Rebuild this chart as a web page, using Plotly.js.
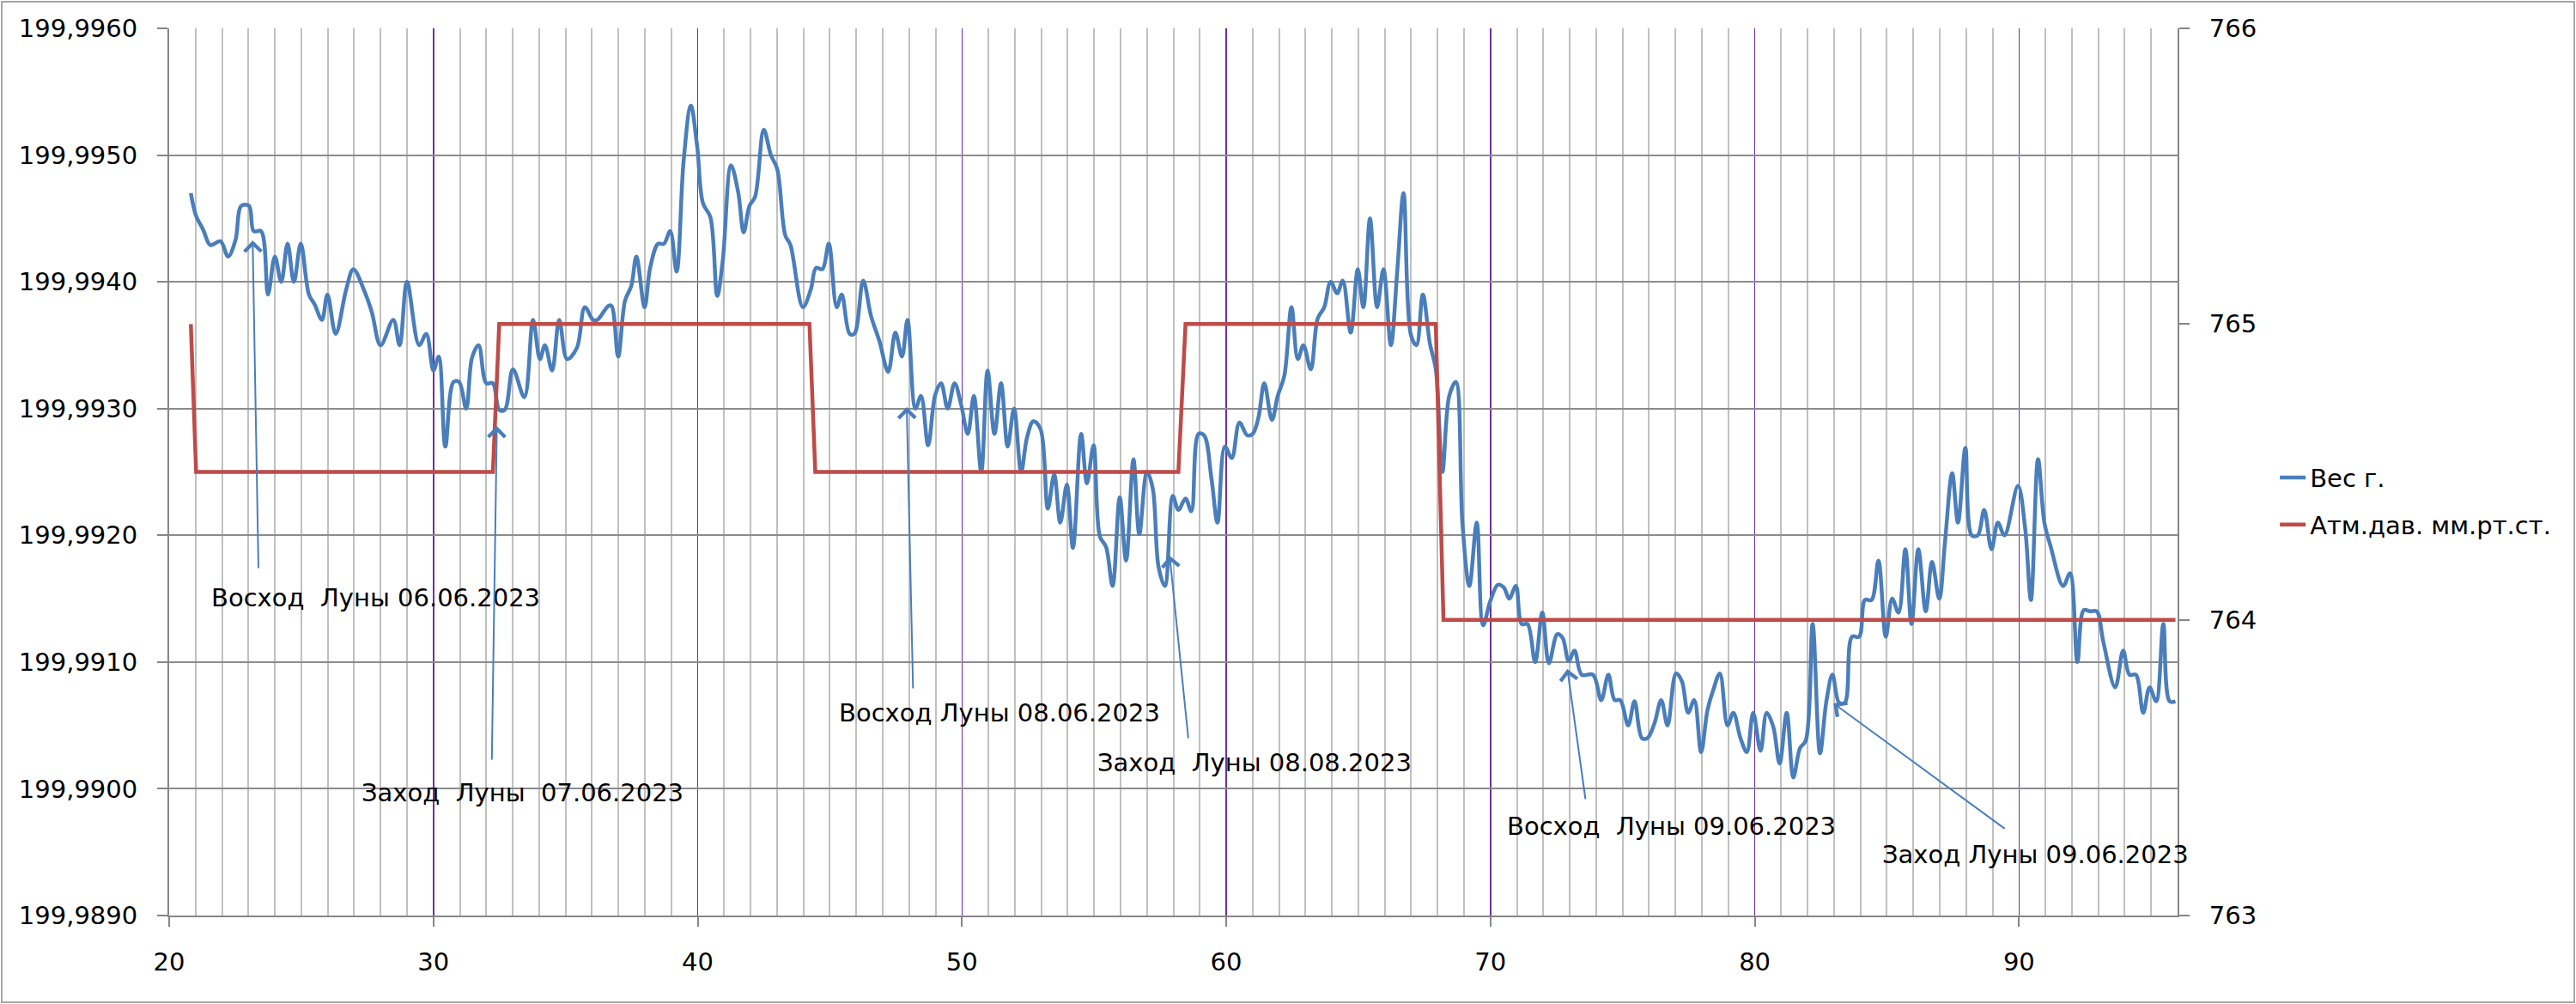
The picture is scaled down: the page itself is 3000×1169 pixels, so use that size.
<!DOCTYPE html>
<html>
<head>
<meta charset="utf-8">
<script src="https://cdn.plot.ly/plotly-3.0.1.min.js"></script>
<style>
  body { margin: 0; background: #fff; }
  #wrap { position: relative; width: 3000px; height: 1169px; }
  #chart { width: 3000px; height: 1169px; }
  #frame { position: absolute; left: 1px; top: 1px; width: 2998px; height: 1167px;
           box-sizing: border-box; border: 2px solid #a6a6a6; pointer-events: none; }
</style>
</head>
<body>
<div id="wrap"><div id="chart"></div><div id="frame"></div></div>
<script>
// время, ч
var weightX = [
  20.82, 21.02, 21.29, 21.56, 21.94, 22.23, 22.51, 22.73, 23.02, 23.20,
  23.48, 23.74, 24.00, 24.24, 24.48, 24.72, 24.98, 25.29, 25.51, 25.78,
  25.99, 26.30, 26.70, 26.97, 27.40, 27.67, 28.00, 28.48, 28.72, 29.00,
  29.46, 29.73, 30.00, 30.20, 30.45, 30.76, 30.97, 31.24, 31.46, 31.71,
  32.00, 32.25, 32.49, 32.70, 33.01, 33.44, 33.77, 34.03, 34.22, 34.49,
  34.76, 35.06, 35.43, 35.73, 36.04, 36.20, 36.62, 36.74, 36.99, 37.25,
  37.49, 37.68, 37.99, 38.20, 38.50, 38.72, 38.96, 39.20, 39.47, 39.74,
  39.98, 40.20, 40.48, 40.74, 40.95, 41.26, 41.53, 41.74, 41.96, 42.17,
  42.50, 42.77, 43.01, 43.31, 43.51, 43.98, 44.28, 44.48, 44.72, 44.96,
  45.26, 45.45, 45.75, 45.93, 46.26, 46.56, 46.88, 47.21, 47.48, 47.73,
  47.94, 48.24, 48.45, 48.72, 48.99, 49.21, 49.46, 49.72, 49.97, 50.22,
  50.45, 50.73, 50.97, 51.23, 51.48, 51.73, 51.97, 52.24, 52.46, 52.70,
  52.97, 53.25, 53.49, 53.72, 53.97, 54.20, 54.51, 54.73, 54.98, 55.22,
  55.45, 55.70, 55.97, 56.21, 56.49, 56.71, 57.00, 57.22, 57.44, 57.68,
  57.98, 58.19, 58.46, 58.68, 58.95, 59.16, 59.44, 59.67, 59.95, 60.21,
  60.50, 60.79, 61.00, 61.22, 61.44, 61.73, 61.95, 62.20, 62.47, 62.71,
  62.92, 63.20, 63.46, 63.71, 63.95, 64.20, 64.41, 64.71, 64.98, 65.19,
  65.44, 65.71, 65.95, 66.23, 66.47, 66.71, 66.99, 67.20, 67.44, 67.71,
  67.93, 68.18, 68.44, 68.69, 68.94, 69.20, 69.48, 69.72, 69.99, 70.28,
  70.50, 70.71, 70.96, 71.18, 71.40, 71.69, 71.96, 72.21, 72.53, 72.73,
  72.96, 73.18, 73.45, 73.88, 74.19, 74.46, 74.70, 74.91, 75.21, 75.45,
  75.73, 75.94, 76.21, 76.46, 76.70, 77.02, 77.24, 77.48, 77.71, 77.97,
  78.21, 78.43, 78.68, 78.97, 79.19, 79.46, 79.70, 79.94, 80.22, 80.45,
  80.70, 80.94, 81.21, 81.46, 81.71, 81.93, 82.19, 82.47, 82.71, 82.94,
  83.19, 83.41, 83.68, 83.95, 84.17, 84.42, 84.68, 84.96, 85.20, 85.44,
  85.70, 85.93, 86.19, 86.47, 86.71, 86.98, 87.20, 87.47, 87.69, 87.97,
  88.21, 88.44, 88.68, 88.96, 89.20, 89.45, 89.96, 90.23, 90.45, 90.72,
  90.96, 91.20, 91.67, 91.93, 92.21, 92.45, 92.69, 92.94, 93.19, 93.64,
  93.94, 94.18, 94.42, 94.70, 94.94, 95.19, 95.46, 95.70, 95.92
];
// Вес г.
var weight = [
  199.99470, 199.99452, 199.99441, 199.99429, 199.99432, 199.99420, 199.99433, 199.99460, 199.99460, 199.99440,
  199.99440, 199.99390, 199.99420, 199.99400, 199.99430, 199.99400, 199.99430, 199.99390, 199.99382, 199.99370,
  199.99390, 199.99359, 199.99394, 199.99410, 199.99392, 199.99376, 199.99350, 199.99370, 199.99350, 199.99400,
  199.99350, 199.99359, 199.99330, 199.99341, 199.99270, 199.99321, 199.99321, 199.99300, 199.99340, 199.99350,
  199.99320, 199.99320, 199.99299, 199.99299, 199.99331, 199.99309, 199.99370, 199.99339, 199.99350, 199.99330,
  199.99370, 199.99339, 199.99348, 199.99380, 199.99370, 199.99370, 199.99381, 199.99381, 199.99341, 199.99385,
  199.99397, 199.99420, 199.99380, 199.99411, 199.99430, 199.99430, 199.99440, 199.99408, 199.99496, 199.99539,
  199.99507, 199.99462, 199.99451, 199.99389, 199.99417, 199.99492, 199.99471, 199.99439, 199.99460, 199.99467,
  199.99520, 199.99500, 199.99489, 199.99437, 199.99429, 199.99380, 199.99394, 199.99411, 199.99410, 199.99430,
  199.99380, 199.99390, 199.99359, 199.99359, 199.99401, 199.99373, 199.99353, 199.99329, 199.99360, 199.99341,
  199.99370, 199.99300, 199.99310, 199.99271, 199.99311, 199.99320, 199.99300, 199.99320, 199.99303, 199.99280,
  199.99310, 199.99250, 199.99330, 199.99280, 199.99320, 199.99270, 199.99300, 199.99250, 199.99277, 199.99290,
  199.99284, 199.99221, 199.99248, 199.99210, 199.99240, 199.99190, 199.99280, 199.99241, 199.99271, 199.99199,
  199.99191, 199.99160, 199.99230, 199.99180, 199.99260, 199.99201, 199.99250, 199.99237, 199.99175, 199.99160,
  199.99231, 199.99220, 199.99229, 199.99219, 199.99280, 199.99279, 199.99245, 199.99210, 199.99270, 199.99261,
  199.99289, 199.99279, 199.99280, 199.99293, 199.99320, 199.99291, 199.99310, 199.99326, 199.99380, 199.99339,
  199.99350, 199.99331, 199.99371, 199.99380, 199.99400, 199.99391, 199.99401, 199.99360, 199.99410, 199.99380,
  199.99450, 199.99380, 199.99410, 199.99350, 199.99408, 199.99470, 199.99358, 199.99350, 199.99390, 199.99351,
  199.99331, 199.99250, 199.99310, 199.99321, 199.99209, 199.99160, 199.99210, 199.99129, 199.99148, 199.99161,
  199.99159, 199.99150, 199.99160, 199.99130, 199.99130, 199.99100, 199.99139, 199.99099, 199.99122, 199.99119,
  199.99101, 199.99109, 199.99090, 199.99090, 199.99070, 199.99090, 199.99070, 199.99070, 199.99050, 199.99069,
  199.99040, 199.99040, 199.99052, 199.99070, 199.99050, 199.99091, 199.99085, 199.99060, 199.99070, 199.99029,
  199.99062, 199.99078, 199.99091, 199.99050, 199.99060, 199.99040, 199.99029, 199.99060, 199.99030, 199.99060,
  199.99049, 199.99020, 199.99060, 199.99009, 199.99032, 199.99038, 199.99130, 199.99028, 199.99069, 199.99090,
  199.99068, 199.99068, 199.99120, 199.99120, 199.99149, 199.99149, 199.99180, 199.99120, 199.99150, 199.99139,
  199.99189, 199.99130, 199.99189, 199.99140, 199.99179, 199.99150, 199.99195, 199.99249, 199.99210, 199.99269,
  199.99200, 199.99200, 199.99220, 199.99189, 199.99210, 199.99200, 199.99239, 199.99206, 199.99149, 199.99260,
  199.99210, 199.99191, 199.99160, 199.99170, 199.99100, 199.99141, 199.99140, 199.99140, 199.99116, 199.99080,
  199.99109, 199.99090, 199.99090, 199.99060, 199.99080, 199.99069, 199.99130, 199.99069, 199.99069
];
// Атм.дав. мм.рт.ст.
var pressX = [20.82, 21.02, 32.25, 32.49, 44.23, 44.45, 58.19, 58.46, 67.93, 68.22, 95.92];
var press  = [765, 764.5, 764.5, 765, 765, 764.5, 764.5, 765, 765, 764, 764];

// подписи: текст, позиция текста, конец стрелки, начало стрелки
var noteText  = ['Восход\u00a0 Луны 06.06.2023', 'Заход\u00a0 Луны\u00a0 07.06.2023', 'Восход Луны 08.06.2023',
                 'Заход\u00a0 Луны 08.08.2023', 'Восход\u00a0 Луны 09.06.2023', 'Заход Луны 09.06.2023'];
var noteX     = [27.81, 33.36, 51.43, 61.06, 76.83, 90.63];
var noteY     = [199.991507, 199.989969, 199.990599, 199.990206, 199.989705, 199.989481];
var headX     = [23.16, 32.40, 47.91, 57.86, 72.91, 82.98];
var headY     = [199.994326, 199.992863, 199.993012, 199.991839, 199.990945, 199.990674];
var tailX     = [23.38, 32.21, 48.15, 58.57, 73.60, 89.51];
var tailY     = [199.991731, 199.990220, 199.990782, 199.990389, 199.989908, 199.989678];

var FONT = 'DejaVu Sans, sans-serif';
var AXIS = '#868686';

var data = [
  {
    x: weightX, y: weight, name: 'Вес г.',
    type: 'scatter', mode: 'lines',
    line: { color: '#4a7ebb', width: 4.5, shape: 'spline', smoothing: 1 },
    legendgroup: 'a'
  },
  {
    x: pressX, y: press, name: 'Атм.дав. мм.рт.ст.', yaxis: 'y2',
    type: 'scatter', mode: 'lines',
    line: { color: '#be4b48', width: 4.5 },
    legendgroup: 'b'
  }
];

var annotations = [];
for (var i = 0; i < noteText.length; i++) {
  annotations.push({
    x: headX[i], y: headY[i], xref: 'x', yref: 'y',
    ax: tailX[i], ay: tailY[i], axref: 'x', ayref: 'y',
    text: '', showarrow: true, arrowhead: 4, arrowsize: 1.9,
    arrowwidth: 2, arrowcolor: '#4a7ebb', standoff: 0
  });
  annotations.push({
    x: noteX[i], y: noteY[i], xref: 'x', yref: 'y',
    text: noteText[i], showarrow: false,
    xanchor: 'center', yanchor: 'middle',
    font: { family: FONT, size: 29, color: '#000' }
  });
}

var layout = {
  width: 3000, height: 1169,
  margin: { l: 197, r: 464, t: 33, b: 103 },
  paper_bgcolor: '#fff', plot_bgcolor: '#fff',
  separators: ', ',
  font: { family: FONT, size: 29, color: '#000' },
  showlegend: true,
  legend: {
    x: 1.0488, xanchor: 'left', y: 0.467, yanchor: 'middle',
    traceorder: 'grouped', tracegroupgap: 14,
    font: { family: FONT, size: 29, color: '#000' },
    bgcolor: 'rgba(0,0,0,0)'
  },
  xaxis: {
    range: [20, 96], tick0: 20, dtick: 10,
    ticks: 'outside', ticklen: 11, tickwidth: 2, tickcolor: AXIS,
    ticklabelstandoff: 16,
    showline: true, linecolor: AXIS, linewidth: 2,
    showgrid: true, gridcolor: '#7030a0', gridwidth: 1.5,
    zeroline: false,
    minor: { dtick: 1, showgrid: true, gridcolor: '#c0c0c0', gridwidth: 2, ticks: '' },
    tickfont: { family: FONT, size: 29, color: '#000' }
  },
  yaxis: {
    range: [199.989, 199.996], tick0: 199.989, dtick: 0.001, tickformat: '.4f',
    ticks: 'outside', ticklen: 12, tickwidth: 2, tickcolor: AXIS,
    ticklabelstandoff: 17,
    showline: true, linecolor: AXIS, linewidth: 2,
    showgrid: true, gridcolor: '#8c8c8c', gridwidth: 2,
    zeroline: false,
    tickfont: { family: FONT, size: 29, color: '#000' }
  },
  yaxis2: {
    overlaying: 'y', side: 'right',
    range: [763, 766], tick0: 763, dtick: 1,
    ticks: 'outside', ticklen: 12, tickwidth: 2, tickcolor: AXIS,
    ticklabelstandoff: 17,
    showline: true, linecolor: AXIS, linewidth: 2,
    showgrid: false, zeroline: false,
    tickfont: { family: FONT, size: 29, color: '#000' }
  },
  annotations: annotations
};

Plotly.newPlot('chart', data, layout, { staticPlot: true });
</script>
</body>
</html>
